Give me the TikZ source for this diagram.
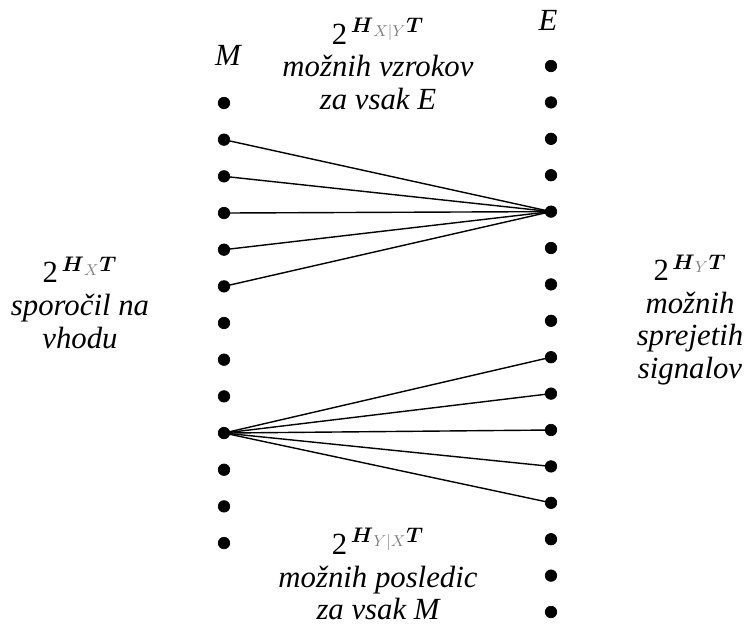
\documentclass[tikz,border=0pt]{standalone}
\usepackage{fontspec}
\setmainfont{Liberation Serif}
\tikzset{
  dot/.style={
    inner sep = 0cm,
    minimum size = 0.23cm,
    shape = circle,
    draw,
    fill
  },
  caption/.style={
    align = center,
    font = \fontsize{17.5}{18.7}\selectfont\itshape
  },
  link/.style={
    line width = 0.8pt
  }
}
\newcommand{\expo}[1]{\textup{2}$^{\,\boldsymbol{H}_{\textcolor{gray}{#1}}\boldsymbol{T}}$}
\usepackage{amsmath,amssymb}

\begin{document}
\begin{tikzpicture}
    \useasboundingbox (0,0) rectangle (14.9,-12.6);
    % the two columns
    \foreach \i in {1,...,13}{
            \node[dot] (m\i) at (4.48,{-(103+(\i-1)*36.67)/50}) {};
        }
    \foreach \i in {1,...,16}{
            \node[dot] (e\i) at (11.02,{-(66+(\i-1)*36.4)/50}) {};
        }
    \node[caption] (mlab) at (4.56,-1.1) {M};
    \node[caption] (elab) at (10.96,-0.4) {E};
    % fans
    \foreach \i in {2,...,6}{
            \draw[link] (m\i.center) -- (e5.center);
        }
    \foreach \i in {9,...,13}{
            \draw[link] (m10.center) -- (e\i.center);
        }
    % texts
    \node[caption] (top) at (7.56,-1.28) {\expo{X|Y}\\možnih vzrokov\\za vsak E};
    \node[caption] (left) at (1.6,-6.06) {\expo{X}\\sporočil na\\vhodu};
    \node[caption] (right) at (13.8,-6.4) {\expo{Y}\\možnih\\sprejetih\\signalov};
    \node[caption] (bottom) at (7.56,-11.48) {\expo{Y|X}\\možnih posledic\\za vsak M};
\end{tikzpicture}
\end{document}
